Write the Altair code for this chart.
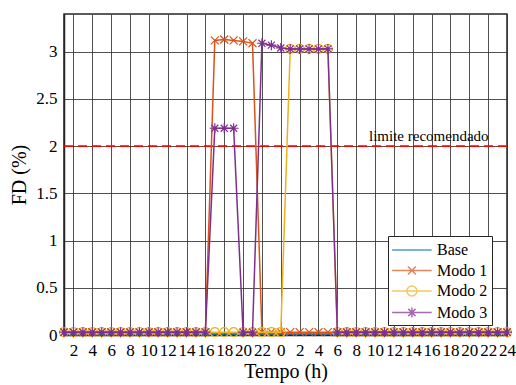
import altair as alt
import pandas as pd

# ---- data ----
horas = [1, 2, 3, 4, 5, 6, 7, 8, 9, 10, 11, 12,
         13, 14, 15, 16, 17, 18, 19, 20, 21, 22, 23, 24,
         25, 26, 27, 28, 29, 30, 31, 32, 33, 34, 35, 36,
         37, 38, 39, 40, 41, 42, 43, 44, 45, 46, 47, 48]

base = [0.01, 0.01, 0.01, 0.01, 0.01, 0.01, 0.01, 0.01, 0.01, 0.01, 0.01, 0.01,
        0.01, 0.01, 0.01, 0.01, 0.01, 0.01, 0.01, 0.01, 0.01, 0.01, 0.01, 0.01,
        0.01, 0.01, 0.01, 0.01, 0.01, 0.01, 0.01, 0.01, 0.01, 0.01, 0.01, 0.01,
        0.01, 0.01, 0.01, 0.01, 0.01, 0.01, 0.01, 0.01, 0.01, 0.01, 0.01, 0.01]

modo1 = [0.03, 0.03, 0.03, 0.03, 0.03, 0.03, 0.03, 0.03, 0.03, 0.03, 0.03, 0.03,
         0.03, 0.03, 0.03, 0.03, 3.12, 3.13, 3.12, 3.11, 3.09, 0.03, 0.03, 0.03,
         0.03, 0.03, 0.03, 0.03, 0.03, 0.03, 0.03, 0.03, 0.03, 0.03, 0.03, 0.03,
         0.03, 0.03, 0.03, 0.03, 0.03, 0.03, 0.03, 0.03, 0.03, 0.03, 0.03, 0.03]

modo2 = [0.03, 0.03, 0.03, 0.03, 0.03, 0.03, 0.03, 0.03, 0.03, 0.03, 0.03, 0.03,
         0.03, 0.03, 0.03, 0.03, 0.03, 0.03, 0.03, 0.03, 0.03, 0.03, 0.03, 0.03,
         3.03, 3.03, 3.03, 3.03, 3.03, 0.03, 0.03, 0.03, 0.03, 0.03, 0.03, 0.03,
         0.03, 0.03, 0.03, 0.03, 0.03, 0.03, 0.03, 0.03, 0.03, 0.03, 0.03, 0.03]

modo3 = [0.03, 0.03, 0.03, 0.03, 0.03, 0.03, 0.03, 0.03, 0.03, 0.03, 0.03, 0.03,
         0.03, 0.03, 0.03, 0.03, 2.19, 2.19, 2.19, 0.03, 0.03, 3.09, 3.07, 3.04,
         3.03, 3.03, 3.03, 3.03, 3.03, 0.03, 0.03, 0.03, 0.03, 0.03, 0.03, 0.03,
         0.03, 0.03, 0.03, 0.03, 0.03, 0.03, 0.03, 0.03, 0.03, 0.03, 0.03, 0.03]

series = ["Base", "Modo 1", "Modo 2", "Modo 3"]
cores = ["#0072BD", "#D95319", "#EDB120", "#7E2F8E"]

x_ticks = [2, 4, 6, 8, 10, 12, 14, 16, 18, 20, 22, 24,
           26, 28, 30, 32, 34, 36, 38, 40, 42, 44, 46, 48]
y_ticks = [0, 0.5, 1, 1.5, 2, 2.5, 3]

limite = [2.0]
limite_texto = ["limite recomendado"]
limite_texto_hora = [39.7]

# ---- styling ----
FONT = "Liberation Serif"
marker_x = "M-1,-1L1,1M-1,1L1,-1"
marker_star = "M-1,0L1,0M0,-1L0,1M-0.707,-0.707L0.707,0.707M-0.707,0.707L0.707,-0.707"
marcadores = [None, (marker_x, 64), ("circle", 80), (marker_star, 100)]

leg_paths = [
    "M-1.1,0L3.3,0",
    "M-1.1,0L3.3,0M0.66,-0.44L1.54,0.44M0.66,0.44L1.54,-0.44",
    "M-1.1,0L3.3,0M1.66,0A0.56,0.56,0,1,1,0.54,0A0.56,0.56,0,1,1,1.66,0",
    "M-1.1,0L3.3,0M1.1,-0.56L1.1,0.56M0.7,-0.4L1.5,0.4M0.7,0.4L1.5,-0.4",
]

todas = [base, modo1, modo2, modo3]
df = pd.DataFrame({
    "hora": [h for _ in series for h in horas],
    "valor": [v for s in todas for v in s],
    "serie": [s for s in series for _ in horas],
})

x_enc = alt.X(
    "hora:Q",
    scale=alt.Scale(domain=[1, 48], nice=False, zero=False),
    axis=alt.Axis(
        values=x_ticks,
        tickCount=60,
        labelExpr="datum.value > 22 ? datum.value - 24 : datum.value",
        title="Tempo (h)",
        labelOverlap=False,
        labelFlush=False,
        labelPadding=7,
        titlePadding=3,
    ),
)
y_enc = alt.Y(
    "valor:Q",
    scale=alt.Scale(domain=[0, 3.4], nice=False),
    axis=alt.Axis(
        values=y_ticks,
        tickCount=20,
        format="~g",
        title="FD (%)",
        labelPadding=7,
        titlePadding=6,
    ),
)

layers = []

ref = pd.DataFrame({"valor": limite})
layers.append(
    alt.Chart(ref).mark_rule(color="#FF0000", strokeDash=[9, 5], strokeWidth=1.8)
    .encode(y=alt.Y("valor:Q"))
)

for s, c, m in zip(series, cores, marcadores):
    sub = alt.Chart(df).transform_filter(alt.datum.serie == s)
    layers.append(sub.mark_line(color=c, strokeWidth=1.5).encode(x=x_enc, y=y_enc))
    if m is not None:
        layers.append(
            sub.mark_point(shape=m[0], size=m[1], color=c, filled=False,
                           strokeWidth=1.2, opacity=1)
            .encode(x=x_enc, y=y_enc)
        )

txt = pd.DataFrame({"hora": limite_texto_hora, "valor": limite, "texto": limite_texto})
layers.append(
    alt.Chart(txt).mark_text(font=FONT, fontSize=15, align="center",
                             baseline="alphabetic", dy=-5, color="black")
    .encode(x=alt.X("hora:Q"), y=alt.Y("valor:Q"), text="texto:N")
)

leg_def = alt.Legend(
    orient="none", legendX=324, legendY=222, title=None,
    symbolSize=324, symbolStrokeWidth=1.5, labelFont=FONT, labelFontSize=16,
    labelColor="black", labelOffset=25, padding=4, rowPadding=2.5,
    strokeColor="#262626", fillColor="white", cornerRadius=0, labelLimit=200,
)
layers.append(
    alt.Chart(df).transform_filter("datum.hora < 0").mark_point(filled=False)
    .encode(
        x=x_enc, y=y_enc,
        color=alt.Color("serie:N", scale=alt.Scale(domain=series, range=cores), legend=leg_def),
        shape=alt.Shape("serie:N", scale=alt.Scale(domain=series, range=leg_paths), legend=leg_def),
    )
)

chart = alt.layer(*layers).properties(
    width=443, height=321,
    padding={"left": 64, "top": 14, "right": 9, "bottom": 50},
    autosize=alt.AutoSizeParams(type="none"),
    background="white",
).configure_axis(
    labelFont=FONT, labelFontSize=17, labelColor="black",
    titleFont=FONT, titleFontSize=20, titleFontWeight="normal", titleColor="black",
    grid=True, gridColor="#333333", gridWidth=1, gridOpacity=0.85,
    domainColor="#262626", domainWidth=1.5, ticks=False,
).configure_view(stroke="#262626", strokeWidth=1.5)

chart.save("out.html", embed_options={"renderer": "svg", "actions": False})
